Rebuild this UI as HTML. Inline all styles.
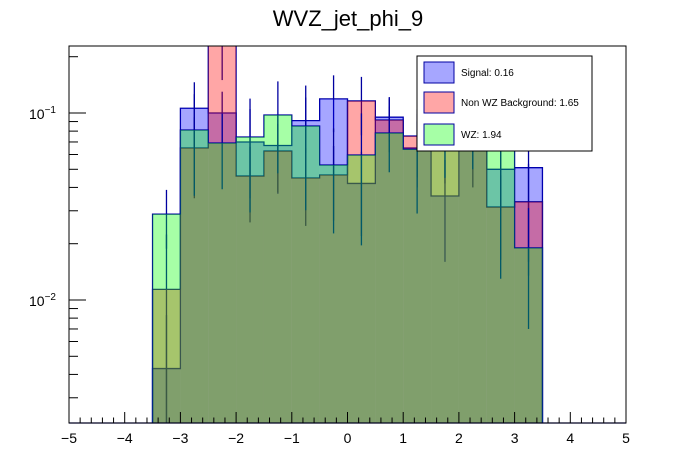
<!DOCTYPE html>
<html><head><meta charset="utf-8"><style>
html,body{margin:0;padding:0;background:#fff;width:696px;height:472px;overflow:hidden;}
svg{display:block;font-family:"Liberation Sans",Arial,sans-serif;}
</style></head><body>
<svg id="chart" width="696" height="472" viewBox="0 0 696 472" xmlns="http://www.w3.org/2000/svg">
<defs><clipPath id="plotclip"><rect x="69" y="46" width="557" height="377"/></clipPath></defs>
<rect width="696" height="472" fill="#fff"/>
<text x="348" y="26" font-size="22" text-anchor="middle" fill="#000">WVZ_jet_phi_9</text>
<g id="series" clip-path="url(#plotclip)"></g>
<g id="axes"></g>
<g>
<rect x="417" y="56" width="175" height="95" fill="#fff" stroke="#000" stroke-width="1"/>
<rect x="424" y="62" width="30" height="21" fill="rgba(0,0,255,0.35)" stroke="#0000a0" stroke-width="1"/>
<text x="461" y="76" font-size="10">Signal: 0.16</text>
<rect x="424" y="92" width="30" height="21" fill="rgba(255,0,0,0.35)" stroke="#0000a0" stroke-width="1"/>
<text x="461" y="106" font-size="10">Non WZ Background: 1.65</text>
<rect x="424" y="124" width="30" height="21" fill="rgba(0,255,0,0.35)" stroke="#0000a0" stroke-width="1"/>
<text x="461" y="138" font-size="10">WZ: 1.94</text>
</g>
</svg>
<script>
const binEdges = [-3.5,-3,-2.5,-2,-1.5,-1,-0.5,0,0.5,1,1.5,2,2.5,3,3.5];
const signalValues = [0.0043,0.106,0.1,0.070,0.067,0.091,0.119,0.042,0.095,0.065,0.036,0.075,0.050,0.051];
const signalErrors = [0.004,0.04,0.03,0.035,0.03,0.03,0.04,0.02,0.025,0.025,0.02,0.025,0.02,0.035];
const nonwzValues = [0.0114,0.065,0.25,0.046,0.0626,0.0449,0.0466,0.116,0.0917,0.0753,0.072,0.07,0.0314,0.0335];
const nonwzErrors = [0.011,0.03,0.1,0.02,0.025,0.02,0.02,0.04,0.03,0.03,0.03,0.03,0.015,0.02];
const wzValues = [0.0288,0.0811,0.0691,0.0744,0.0976,0.0852,0.0527,0.0596,0.0782,0.064,0.075,0.08,0.068,0.019];
const wzErrors = [0.01,0.045,0.03,0.045,0.05,0.055,0.03,0.04,0.03,0.035,0.03,0.03,0.055,0.012];
const xTicks = [-5,-4,-3,-2,-1,0,1,2,3,4,5];
const yDecades = [-2,-1];

const NS="http://www.w3.org/2000/svg";
const X0=69,X1=626,Y0=46,Y1=423;
const xMin=-5,xMax=5;
const yRef=113, decPx=187;
function xs(v){return X0+(v-xMin)/(xMax-xMin)*(X1-X0);}
function ys(v){if(v<=0)return Y1+50;return yRef-(Math.log10(v)+1)*decPx;}
function mk(tag,attrs,parent){const e=document.createElementNS(NS,tag);for(const k in attrs)e.setAttribute(k,attrs[k]);parent.appendChild(e);return e;}

const sg=document.getElementById('series');
const seriesList=[
 {name:'signal',vals:signalValues,errs:signalErrors,fill:'rgba(0,0,255,0.35)'},
 {name:'nonwz',vals:nonwzValues,errs:nonwzErrors,fill:'rgba(255,0,0,0.35)'},
 {name:'wz',vals:wzValues,errs:wzErrors,fill:'rgba(0,255,0,0.35)'}
];
const baseY=Y1+2;
seriesList.forEach(s=>{
  const g=mk('g',{},sg);
  
  
  s.vals.forEach((v,i)=>{
    const c=(binEdges[i]+binEdges[i+1])/2;
    const lo=v-s.errs[i], hi=v+s.errs[i];
    const l=mk('line',{x1:xs(c),x2:xs(c),y1:ys(hi),y2:lo>0?Math.min(ys(lo),Y1):Y1,stroke:'#0000a0','stroke-width':1.3},g);
    
    
  });
  let d='M'+xs(binEdges[0])+','+baseY;
  s.vals.forEach((v,i)=>{d+=' L'+xs(binEdges[i])+','+ys(v)+' L'+xs(binEdges[i+1])+','+ys(v);});
  d+=' L'+xs(binEdges[binEdges.length-1])+','+baseY;
  const o=mk('path',{d:d,fill:'none',stroke:'#0000a0','stroke-width':1.3},g);
  
  
  s.vals.forEach((v,i)=>{
    const y=ys(v);
    const r=mk('rect',{x:xs(binEdges[i]),y:y,width:xs(binEdges[i+1])-xs(binEdges[i]),height:Math.max(0,baseY-y),fill:s.fill},g);
    
    
  });
});

const ax=document.getElementById('axes');
mk('line',{x1:X0,x2:X1,y1:Y1,y2:Y1,stroke:'#0000a0','stroke-width':1.3},ax);
const frame=mk('rect',{x:X0,y:Y0,width:X1-X0,height:Y1-Y0,fill:'none',stroke:'#000','stroke-width':1},ax);


for(let t=xMin;t<=xMax+1e-9;t+=0.2){
  const major=Math.abs(t-Math.round(t))<1e-6;
  mk('line',{x1:xs(t),x2:xs(t),y1:Y1,y2:Y1-(major?11:5.5),stroke:'#000','stroke-width':1},ax);
}
xTicks.forEach(t=>{
  const tx=mk('text',{x:xs(t),y:Y1+20,'font-size':14,'text-anchor':'middle'},ax);
  tx.textContent=(t<0?'\u2212':'')+Math.abs(t);
  
  
});
for(let e=-3;e<=-1;e++){
  for(let m=1;m<=9;m++){
    const v=m*Math.pow(10,e);const y=ys(v);
    if(y<Y0-0.5||y>Y1)continue;
    mk('line',{x1:X0,x2:X0+(m===1?17:9),y1:y,y2:y,stroke:'#000','stroke-width':1},ax);
  }
}
yDecades.forEach(e=>{
  const y=ys(Math.pow(10,e));
  const tx=mk('text',{x:56,y:y+6,'font-size':14,'text-anchor':'end'},ax);
  
  
  const b=document.createElementNS(NS,'tspan');b.textContent='10';tx.appendChild(b);
  const s=document.createElementNS(NS,'tspan');s.setAttribute('dy','-6');s.setAttribute('font-size','10');s.textContent='\u2212'+Math.abs(e);tx.appendChild(s);
});
</script>
</body></html>
